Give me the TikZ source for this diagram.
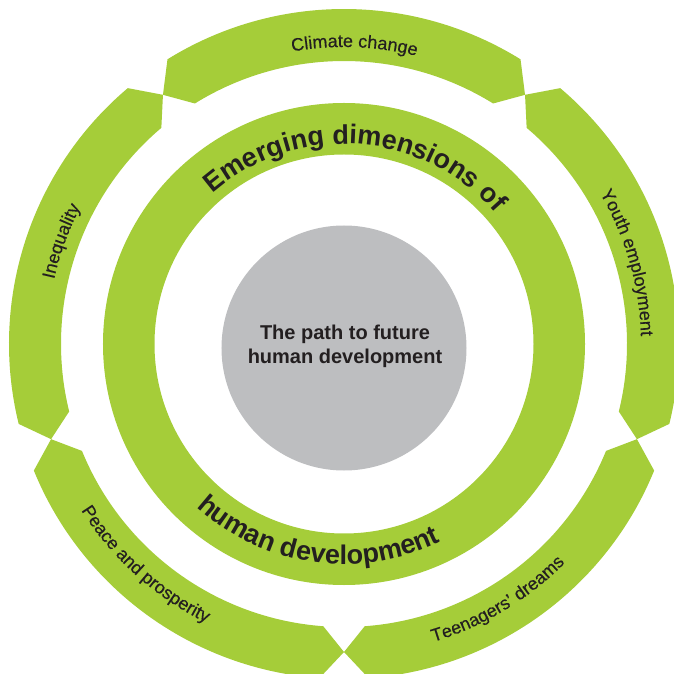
\documentclass[tikz,border=0pt]{standalone}
\usepackage{fontspec}
\setmainfont{Liberation Sans}
\newfontfamily\segfont[FakeBold=0.35]{Liberation Sans}
\usetikzlibrary{decorations.text}

\definecolor{ringgreen}{RGB}{165,205,57}
\definecolor{coregray}{RGB}{189,190,192}
\definecolor{inkdark}{RGB}{35,31,32}

\begin{document}
\begin{tikzpicture}[x=1pt,y=1pt,
  seg/.style={fill=ringgreen},
  ringtext/.style={decorate,decoration={text along path,text align=center,text color=inkdark,
    text={|\fontsize{27}{27}\selectfont\bfseries|#1}}},
  segtext/.style={decorate,decoration={text along path,text align=center,text color=inkdark,
    text={|\fontsize{18}{18}\selectfont\segfont|#1}}}]
\useasboundingbox (-344,-330) rectangle (330,344);
\clip (-344,-330) rectangle (330,344);
\foreach \t in {-18,54,126,198,270}{
  \fill[seg] ({\t+4.2}:335) arc[start angle={\t+4.2}, end angle={\t+67.8}, radius=335]
    -- ({\t+72}:308) -- ({\t+67.8}:283)
    arc[start angle={\t+67.8}, end angle={\t+4.2}, radius=283] -- (\t:308) -- cycle;
}
\fill[seg,even odd rule] (0,0) circle[radius=241] (0,0) circle[radius=189.5];
\fill[coregray] (0,-4) circle[radius=122.5];
\node[text=inkdark,font=\fontsize{20}{24}\selectfont\bfseries,align=center,inner sep=0] (core) at (1,-2) {The path to future\\human development};
\path[ringtext={Emerging dimensions of}] (146:200) arc[start angle=146, end angle=26, radius=200];
\path[ringtext={human development}] (-158:220) arc[start angle=-158, end angle=-38, radius=220];
\path[segtext={Climate change}] (128:297) arc[start angle=128, end angle=48, radius=297];
\path[segtext={Youth employment}] (56:297) arc[start angle=56, end angle=-24, radius=297];
\path[segtext={Inequality}] (200:297) arc[start angle=200, end angle=120, radius=297];
\path[segtext={Teenagers’ dreams}] (-99:311) arc[start angle=-99, end angle=-19, radius=311];
\path[segtext={Peace and prosperity}] (-172:311) arc[start angle=-172, end angle=-92, radius=311];
\end{tikzpicture}
\end{document}
